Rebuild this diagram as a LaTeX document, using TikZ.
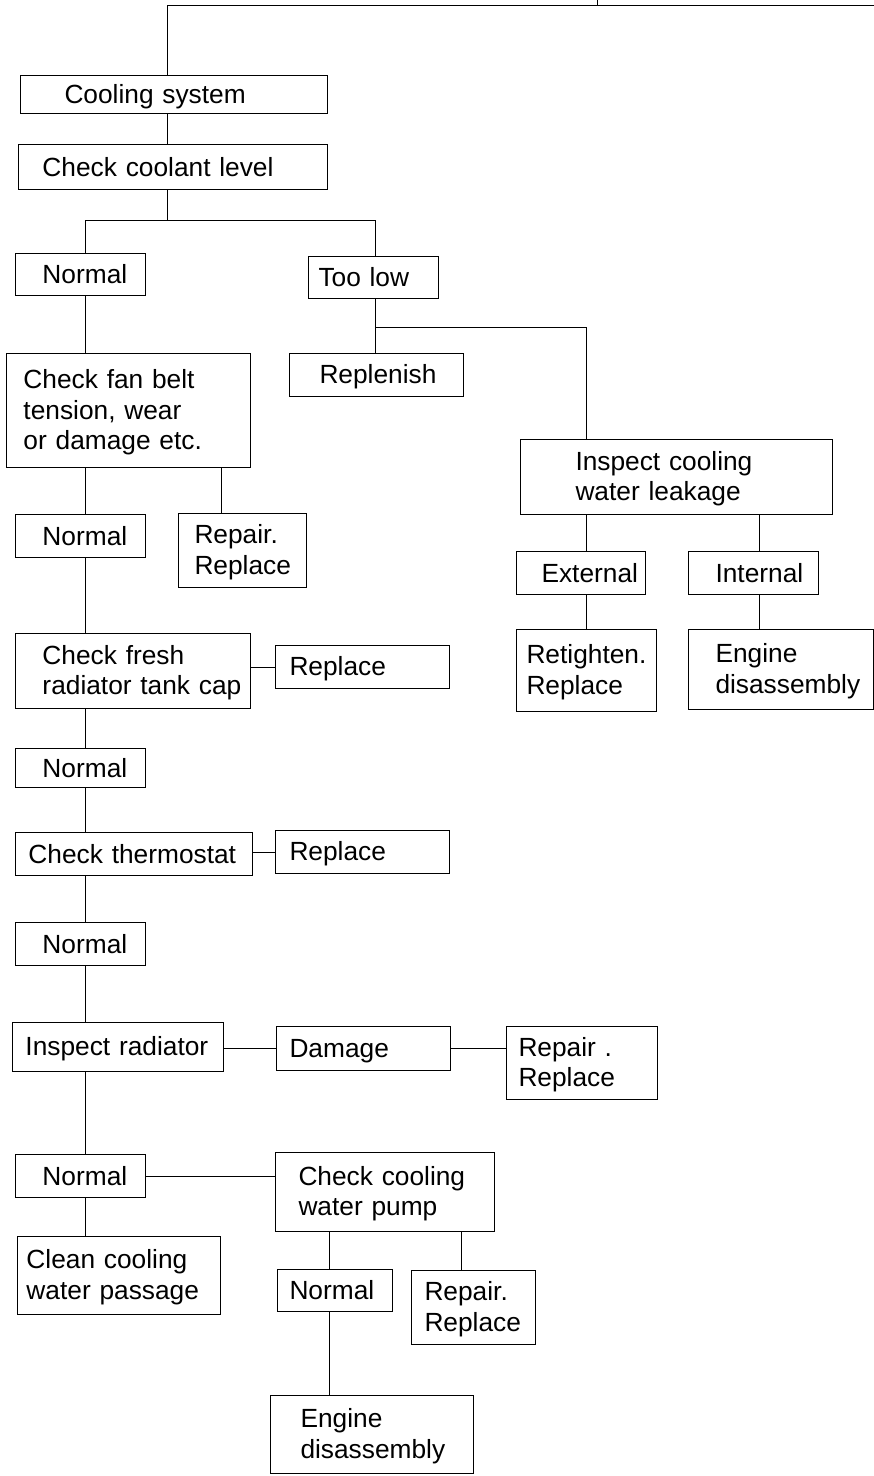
\documentclass[tikz,border=0pt]{standalone}
\usepackage{fontspec}
\setmainfont{Liberation Sans}
\usetikzlibrary{positioning}
\newcommand\bxstrut{\rule[-4pt]{0pt}{26.8pt}}
\tikzset{
  box/.style={draw,line width=1pt,anchor=north west,inner sep=0pt,align=left,
    font=\fontsize{26.3}{30.5}\selectfont,
    execute at begin node=\bxstrut,execute at end node=\bxstrut},
  pad/.style={execute at begin node={\leftskip=#1pt}},
  link/.style={line width=0.8pt}
}
\begin{document}
\begin{tikzpicture}[x=1pt,y=-1pt]
    \useasboundingbox (0,0) rectangle (874,1476);
    \node[box,text width=307pt,minimum height=38pt,pad=44] (cs) at (20,75) {Cooling system};
    \node[box,text width=309pt,minimum height=45pt,pad=24] (ccl) at (18,144) {Check coolant level};
    \node[box,text width=130pt,minimum height=42pt,pad=27] (n1) at (15,253) {Normal};
    \node[box,text width=130pt,minimum height=42pt,pad=10] (low) at (308,256) {Too low};
    \node[box,text width=244pt,minimum height=114pt,pad=17] (fb) at (6,353) {Check fan belt\\tension, wear\\or damage etc.};
    \node[box,text width=174pt,minimum height=43pt,pad=30] (rep) at (289,353) {Replenish};
    \node[box,text width=312pt,minimum height=75pt,pad=55] (leak) at (520,439) {Inspect cooling\\water leakage};
    \node[box,text width=130pt,minimum height=43pt,pad=27] (n2) at (15,514) {Normal};
    \node[box,text width=128pt,minimum height=74pt,pad=16] (rr1) at (178,513) {Repair.\\Replace};
    \node[box,text width=129pt,minimum height=43pt,pad=25] (ext) at (516,551) {External};
    \node[box,text width=130pt,minimum height=43pt,pad=27] (int) at (688,551) {Internal};
    \node[box,text width=235pt,minimum height=75pt,pad=27] (cap) at (15,633) {Check fresh\\radiator tank cap};
    \node[box,text width=174pt,minimum height=43pt,pad=14] (rp1) at (275,645) {Replace};
    \node[box,text width=140pt,minimum height=82pt,pad=10] (ret) at (516,629) {Retighten.\\Replace};
    \node[box,text width=185pt,minimum height=80pt,pad=27] (eng1) at (688,629) {Engine\\disassembly};
    \node[box,text width=130pt,minimum height=39pt,pad=27] (n3) at (15,748) {Normal};
    \node[box,text width=237pt,minimum height=43pt,pad=13] (th) at (15,832) {Check thermostat};
    \node[box,text width=174pt,minimum height=43pt,pad=14] (rp2) at (275,830) {Replace};
    \node[box,text width=130pt,minimum height=43pt,pad=27] (n4) at (15,922) {Normal};
    \node[box,text width=211pt,minimum height=49pt,pad=13] (rad) at (12,1022) {Inspect radiator};
    \node[box,text width=174pt,minimum height=44pt,pad=13] (dmg) at (276,1026) {Damage};
    \node[box,text width=151pt,minimum height=73pt,pad=12] (rr2) at (506,1026) {Repair .\\Replace};
    \node[box,text width=130pt,minimum height=43pt,pad=27] (n5) at (15,1154) {Normal};
    \node[box,text width=219pt,minimum height=79pt,pad=23] (pump) at (275,1152) {Check cooling\\water pump};
    \node[box,text width=203pt,minimum height=78pt,pad=9] (clean) at (17,1236) {Clean cooling\\water passage};
    \node[box,text width=115pt,minimum height=42pt,pad=12] (n6) at (277,1269) {Normal};
    \node[box,text width=124pt,minimum height=74pt,pad=13] (rr3) at (411,1270) {Repair.\\Replace};
    \node[box,text width=203pt,minimum height=78pt,pad=30] (eng2) at (270,1395) {Engine\\disassembly};
    \coordinate (rt) at (874,5);
    \coordinate (up) at (597,0);
    \coordinate (xa) at (85,0);
    \coordinate (xb) at (167,0);
    \coordinate (xc) at (375,0);
    \coordinate (xd) at (586,0);
    \coordinate (xe) at (221,0);
    \coordinate (xg) at (759,0);
    \coordinate (xh) at (329,0);
    \coordinate (xi) at (461,0);
    \coordinate (ya) at (0,220);
    \coordinate (yb) at (0,327);
    \draw[link] (rt) -| (cs.north -| xb);
    \draw[link] (up) -- (up |- rt);
    \draw[link] (cs.south -| xb) -- (ccl.north -| xb);
    \draw[link] (ccl.south -| xb) -- (xb |- ya);
    \draw[link] (n1.north -| xa) -- (xa |- ya) -- (xc |- ya) -- (low.north -| xc);
    \draw[link] (low.south -| xc) -- (rep.north -| xc);
    \draw[link] (xc |- yb) -| (leak.north -| xd);
    \foreach \a/\b in {n1/fb,fb/n2,n2/cap,cap/n3,n3/th,th/n4,n4/rad,rad/n5,n5/clean}
      \draw[link] (\a.south -| xa) -- (\b.north -| xa);
    \draw[link] (fb.south -| xe) -- (rr1.north -| xe);
    \foreach \a/\b/\x in {leak/ext/xd,ext/ret/xd,leak/int/xg,int/eng1/xg,pump/n6/xh,n6/eng2/xh,pump/rr3/xi}
      \draw[link] (\a.south -| \x) -- (\b.north -| \x);
    \draw[link] (cap.east |- rp1.west) -- (rp1.west);
    \draw[link] (th.east |- rp2.west) -- (rp2.west);
    \draw[link] (rad.east |- dmg.west) -- (dmg.west);
    \draw[link] (dmg.east) -- (dmg.east -| rr2.west);
    \draw[link] (n5.east) -- (n5.east -| pump.west);
  \end{tikzpicture}
\end{document}
